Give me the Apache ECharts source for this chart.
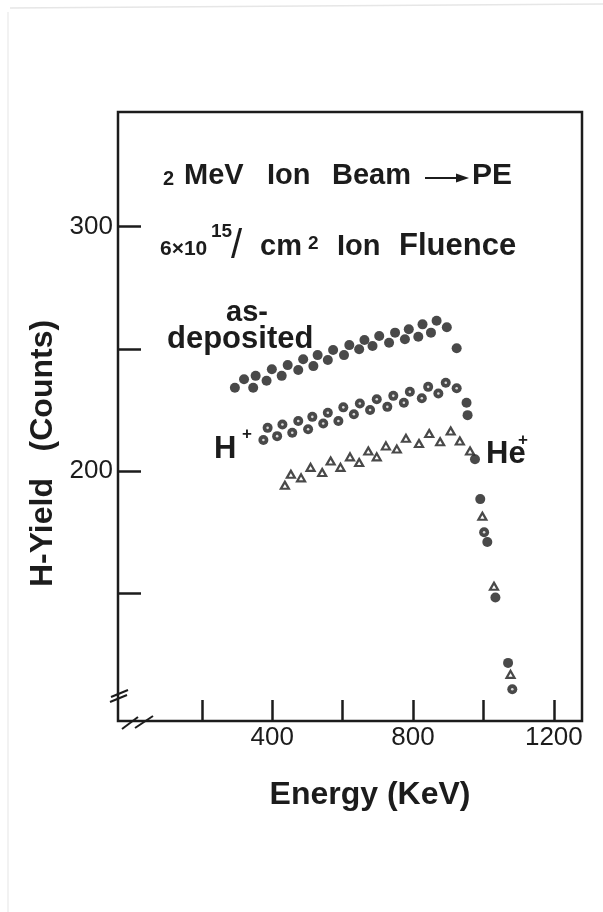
<!DOCTYPE html>
<html>
<head>
<meta charset="utf-8">
<script src="https://cdn.jsdelivr.net/npm/echarts@6/dist/echarts.min.js"></script>
<style>
html,body{margin:0;padding:0;background:#fff;}
#chart{width:603px;height:912px;}
</style>
</head>
<body>
<div id="chart"></div>
<script>
// ---- data (Energy in keV, H-yield in counts) ----
const asDepEnergy = [294,320,346,353,384,399,427,444,474,488,517,529,558,573,604,619,647,662,685,704,732,749,777,788,815,827,851,867,896,924,952,955,976,991,1011,1034,1070];
const asDepCounts = [234.0,237.5,234.0,238.9,236.9,241.6,238.9,243.3,241.3,245.7,242.9,247.4,245.4,249.5,247.4,251.5,249.8,253.6,251.1,255.2,252.5,256.6,253.9,258.0,254.9,260.0,256.6,261.5,258.8,250.2,227.9,222.8,204.7,188.4,170.8,148.1,121.3];

const hEnergy = [375,387,414,429,457,474,502,514,545,558,588,602,632,649,678,697,727,744,774,791,825,843,872,893,924,1002,1082];
const hCounts = [212.6,217.6,214.2,219.0,215.6,220.4,217.0,222.1,219.4,223.8,220.4,226.0,223.2,227.6,224.9,229.3,226.2,230.7,227.9,232.4,229.7,234.4,231.7,236.1,233.8,174.8,110.5];

const heEnergy = [436,453,482,509,542,566,594,621,647,673,697,723,754,780,817,846,877,907,933,962,997,1030,1077];
const heCounts = [194.1,198.6,197.1,201.4,199.3,204.0,201.4,205.7,203.4,208.1,205.7,210.2,208.9,213.3,211.2,215.3,211.9,216.3,212.2,208.1,181.4,152.7,116.6];

const xTickValues = [200,400,600,800,1000,1200];
const xLabelValues = [400,800,1200];
const yTickValues = [150,200,250,300];
const yLabelValues = [200,300];

const zip = (a,b) => a.map((v,i)=>[v,b[i]]);

const INK = '#1c1c1c';
const FONT = 'Liberation Sans';

function txt(text, x, y, size, weight, extra){
  return Object.assign({
    type:'text', silent:true,
    style:{text:text, x:x, y:y, fill:INK, fontFamily:FONT, fontSize:size, fontWeight:weight||'bold',
           textAlign:'left', textVerticalAlign:'middle'}
  }, extra||{});
}
// baseline -> middle y
const mid = (baseline, fs) => baseline - 0.35*fs;

const chart = echarts.init(document.getElementById('chart'), null, {renderer:'canvas'});
chart.setOption({
  animation:false,
  backgroundColor:'#fff',
  grid:{left:118, top:112, right:21, bottom:191, show:true, borderColor:INK, borderWidth:2.5, backgroundColor:'transparent'},
  xAxis:{
    type:'value', min:-38, max:1280,
    name:'Energy (KeV)', nameLocation:'middle', nameGap:58,
    nameTextStyle:{fontFamily:FONT, fontSize:32, fontWeight:'bold', color:INK, padding:[0,0,0,40]},
    axisLine:{show:false, onZero:false},
    axisTick:{show:true, inside:true, length:21, lineStyle:{color:INK, width:2.5}, customValues:xTickValues},
    axisLabel:{show:true, customValues:xLabelValues, fontFamily:FONT, fontSize:26, color:INK, margin:4,
               formatter:(v)=>String(v)},
    splitLine:{show:false}
  },
  yAxis:{
    type:'value', min:97.5, max:347,
    name:'H-Yield   (Counts)', nameLocation:'middle', nameGap:58, nameRotate:90,
    nameTextStyle:{fontFamily:FONT, fontSize:32, fontWeight:'bold', color:INK, padding:[0,74,0,0]},
    axisLine:{show:false, onZero:false},
    axisTick:{show:true, inside:true, length:23, lineStyle:{color:INK, width:2.5}, customValues:yTickValues},
    axisLabel:{show:true, customValues:yLabelValues, fontFamily:FONT, fontSize:26, color:INK, margin:5,
               formatter:(v)=>String(v)},
    splitLine:{show:false}
  },
  series:[
    {name:'as-deposited', type:'scatter', symbol:'circle', symbolSize:10,
     itemStyle:{color:INK}, data:zip(asDepEnergy, asDepCounts), z:3},
    {name:'H+', type:'scatter', symbol:'circle', symbolSize:10,
     itemStyle:{color:INK}, data:zip(hEnergy, hCounts), z:3},
    {name:'H+ centre', type:'scatter', symbol:'circle', symbolSize:2.6, silent:true,
     itemStyle:{color:'#fff'}, data:zip(hEnergy, hCounts), z:4},
    {name:'He+', type:'scatter', symbol:'triangle', symbolSize:[8,7],
     itemStyle:{color:'#fff', borderColor:INK, borderWidth:2.2}, data:zip(heEnergy, heCounts), z:5}
  ],
  graphic:[
    // faint scan border
    {type:'line', silent:true, shape:{x1:10,y1:8,x2:603,y2:4}, style:{stroke:'#e6e6e6', lineWidth:1.5}},
    {type:'line', silent:true, shape:{x1:8,y1:12,x2:8,y2:912}, style:{stroke:'#eeeeee', lineWidth:1.5}},
    // axis break marks
    {type:'line', silent:true, shape:{x1:110,y1:702,x2:127,y2:695}, style:{stroke:INK, lineWidth:2}},
    {type:'line', silent:true, shape:{x1:111,y1:697,x2:128,y2:690}, style:{stroke:INK, lineWidth:2}},
    {type:'line', silent:true, shape:{x1:122,y1:729,x2:138,y2:717}, style:{stroke:INK, lineWidth:2}},
    {type:'line', silent:true, shape:{x1:135,y1:728,x2:153,y2:716}, style:{stroke:INK, lineWidth:2}},
    // title line 1
    txt('2', 163, mid(186,20), 20),
    txt('MeV', 184, mid(186,29), 29),
    txt('Ion', 267, mid(186,29), 29),
    txt('Beam', 332, mid(186,29), 29),
    {type:'line', silent:true, shape:{x1:425,y1:178,x2:460,y2:178}, style:{stroke:INK, lineWidth:2}},
    {type:'polygon', silent:true, shape:{points:[[456,173.5],[469,178],[456,182.5]]}, style:{fill:INK}},
    txt('PE', 472, mid(186,30), 30),
    // title line 2
    txt('6×10', 160, mid(257,21), 21),
    txt('15', 211, mid(238,19), 19),
    txt('/', 231, mid(261,40), 40, 'normal'),
    txt('cm', 260, mid(257,29), 29),
    txt('2', 308, mid(250,19), 19),
    txt('Ion', 337, mid(257,29), 29),
    txt('Fluence', 399, mid(257,31), 31),
    // series labels
    txt('as-', 226, mid(323,29), 29),
    txt('deposited', 167, mid(350,31), 31),
    txt('H', 214, mid(460,31), 31),
    txt('+', 242, mid(440,17), 17),
    txt('He', 486, mid(465,31), 31),
    txt('+', 518, mid(446,17), 17)
  ]
});
</script>
</body>
</html>
